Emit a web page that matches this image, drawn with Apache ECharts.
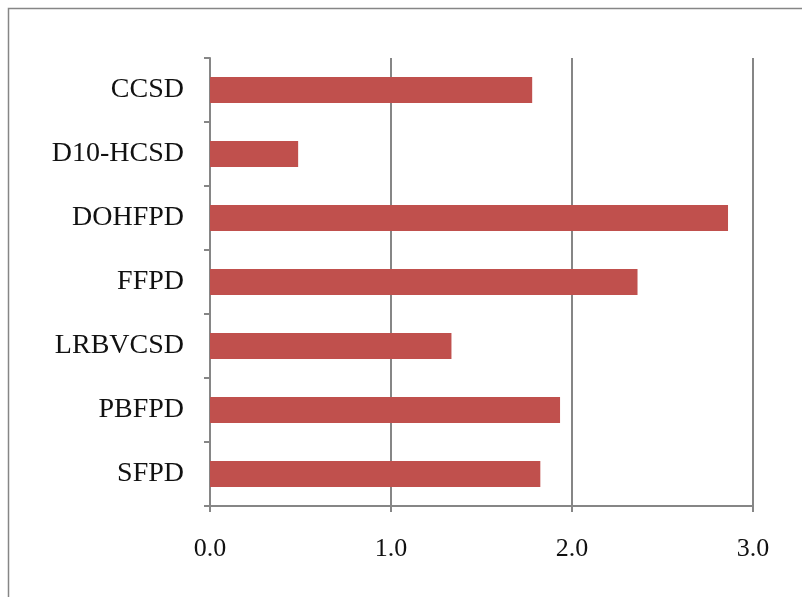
<!DOCTYPE html>
<html>
<head>
<meta charset="utf-8">
<script src="https://cdn.jsdelivr.net/npm/echarts@6/dist/echarts.min.js"></script>
<style>
  html, body { margin: 0; padding: 0; background: #ffffff; }
  #chart { width: 802px; height: 597px; }
</style>
</head>
<body>
<div id="chart"></div>
<script>
// Categories, top to bottom
const categories = ['CCSD', 'D10-HCSD', 'DOHFPD', 'FFPD', 'LRBVCSD', 'PBFPD', 'SFPD'];
// Bar values
const values = [1.78, 0.487, 2.862, 2.362, 1.334, 1.934, 1.825];
// Value axis range and tick step
const xMin = 0;
const xMax = 3;
const xStep = 1;

const gray = '#868686';
const fontFamily = '"Liberation Serif", "DejaVu Serif", serif';

const chart = echarts.init(document.getElementById('chart'), null, { renderer: 'canvas' });
chart.setOption({
  animation: false,
  backgroundColor: '#ffffff',
  graphic: [{
    type: 'rect',
    shape: { x: 8.5, y: 8.5, width: 820, height: 620 },
    style: { fill: 'none', stroke: gray, lineWidth: 1.5 },
    silent: true
  }],
  grid: { left: 210, right: 49, top: 58, bottom: 91, containLabel: false },
  xAxis: {
    type: 'value',
    min: xMin,
    max: xMax,
    interval: xStep,
    axisLine: { show: true, lineStyle: { color: gray, width: 2 } },
    axisTick: { show: true, length: 6, lineStyle: { color: gray, width: 2 } },
    splitLine: { show: true, lineStyle: { color: gray, width: 2 } },
    axisLabel: {
      color: '#111111',
      fontFamily: fontFamily,
      fontSize: 26,
      margin: 30,
      formatter: v => v.toFixed(1)
    }
  },
  yAxis: {
    type: 'category',
    data: categories,
    inverse: true,
    axisLine: { show: true, lineStyle: { color: gray, width: 2 } },
    axisTick: { show: true, length: 6, lineStyle: { color: gray, width: 2 } },
    splitLine: { show: false },
    axisLabel: {
      color: '#111111',
      fontFamily: fontFamily,
      fontSize: 28,
      margin: 26
    }
  },
  series: [{
    type: 'bar',
    data: values,
    barWidth: 26,
    itemStyle: { color: '#C0504D' }
  }]
});
</script>
</body>
</html>
